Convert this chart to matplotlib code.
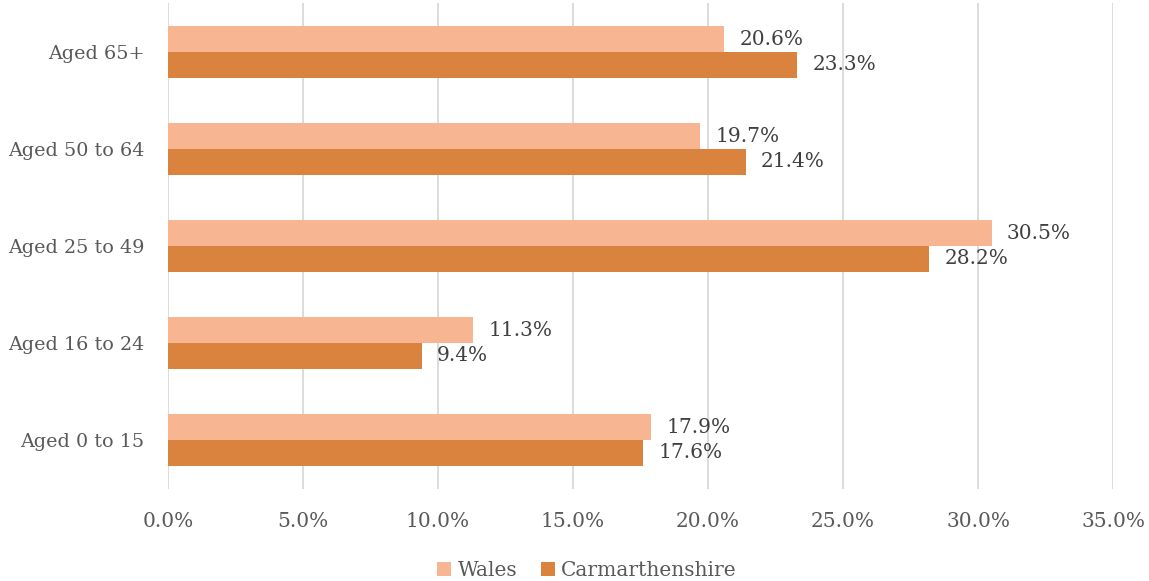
import matplotlib.pyplot as plt
import numpy as np

categories = ["Aged 0 to 15", "Aged 16 to 24", "Aged 25 to 49", "Aged 50 to 64", "Aged 65+"]
wales = [17.9, 11.3, 30.5, 19.7, 20.6]
carmarthenshire = [17.6, 9.4, 28.2, 21.4, 23.3]
xticks = [0, 5, 10, 15, 20, 25, 30, 35]

text_color = "#595959"
wales_color = "#F8B592"
carm_color = "#DA833E"

plt.rcParams["font.family"] = ["DejaVu Serif"]

fig = plt.figure(figsize=(11.49, 5.81), dpi=100)
ax = fig.add_axes([0.1462, 0.1592, 0.8225, 0.8348])

y = np.arange(len(categories))
h = 0.265
b1 = ax.barh(y + h / 2, wales, height=h, color=wales_color, label="Wales", zorder=3)
b2 = ax.barh(y - h / 2, carmarthenshire, height=h, color=carm_color, label="Carmarthenshire", zorder=3)

for bars, vals in [(b1, wales), (b2, carmarthenshire)]:
    for bar, v in zip(bars, vals):
        ax.annotate(f"{v:.1f}%", (v, bar.get_y() + bar.get_height() / 2),
                    xytext=(11, 0), textcoords="offset points",
                    va="center", ha="left", fontsize=14.5, color="#404040", zorder=4)

ax.set_xlim(0, 35)
ax.set_ylim(-0.5, len(categories) - 0.5)
ax.set_xticks(xticks)
ax.set_xticklabels([f"{t:.1f}%" for t in xticks])
ax.set_yticks(y)
ax.set_yticklabels(categories)
ax.tick_params(axis="both", length=0, labelsize=14.5, colors=text_color)
ax.tick_params(axis="x", pad=17)
ax.tick_params(axis="y", pad=17, labelsize=13.8)
ax.grid(axis="x", color="#D9D9D9", linewidth=1.3, zorder=0)
for s in ax.spines.values():
    s.set_visible(False)

fig.legend(handles=[b1, b2], loc="lower center", bbox_to_anchor=(0.511, -0.03), ncol=2,
           frameon=False, fontsize=14.5, labelcolor=text_color, handlelength=0.7,
           handleheight=0.7, handletextpad=0.3, columnspacing=1.2)

fig.savefig("out.png", dpi=100)
